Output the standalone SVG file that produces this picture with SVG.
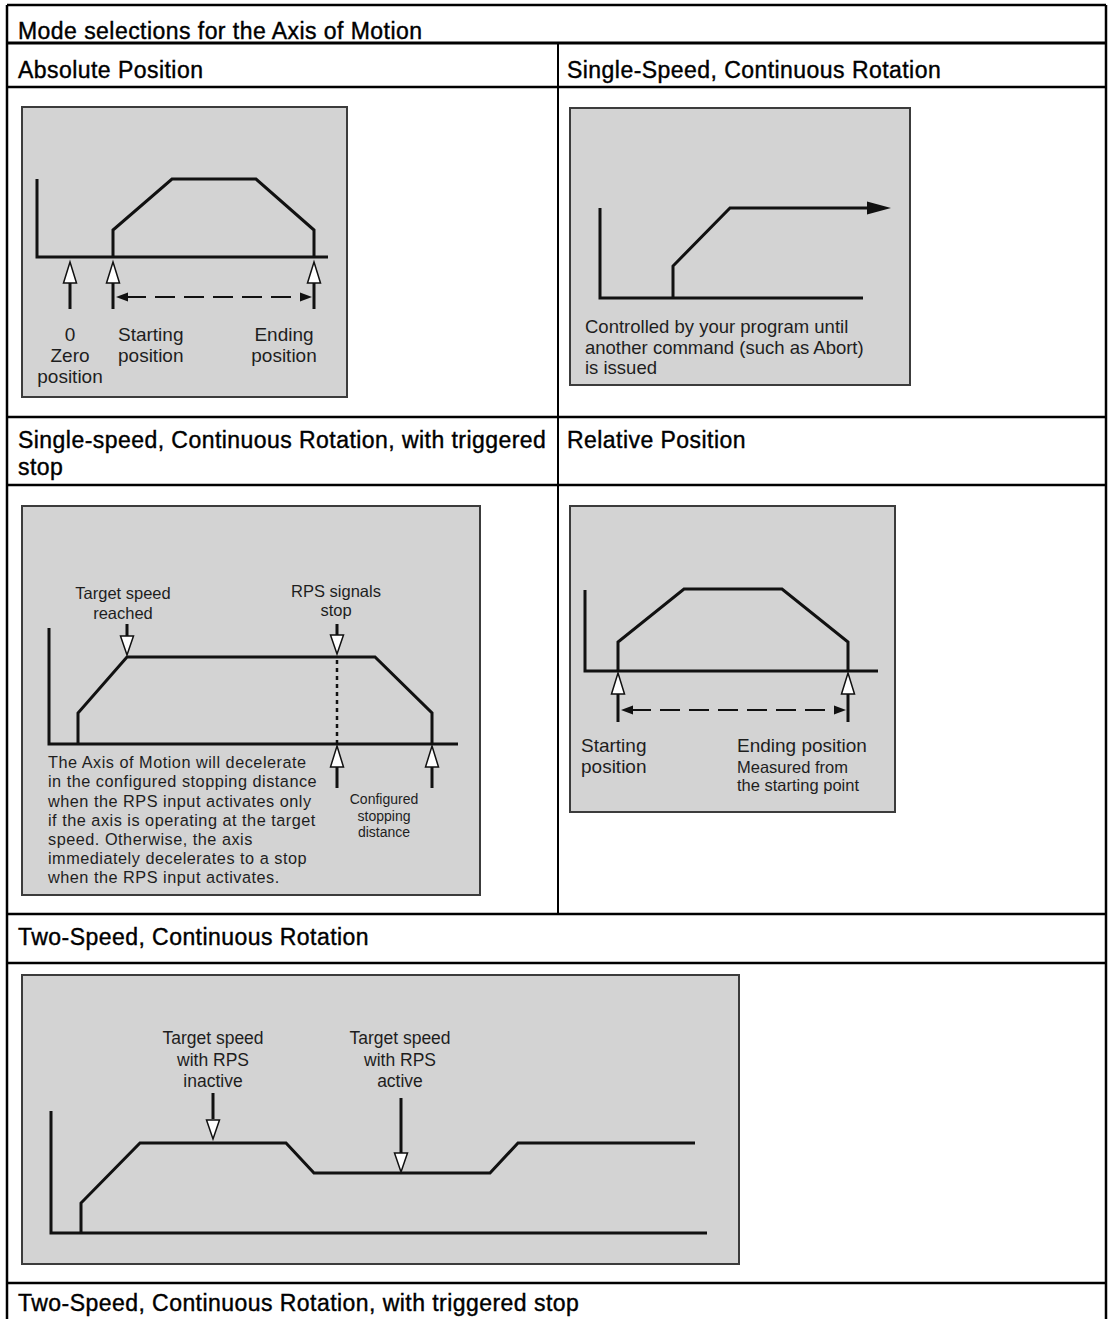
<svg xmlns="http://www.w3.org/2000/svg" width="1111" height="1319" viewBox="0 0 1111 1319">
<style>
.tbl{stroke:#000;stroke-width:2.5;fill:none}
.div{stroke:#000;stroke-width:2;fill:none}
.hdr{font-family:"Liberation Sans",Arial,sans-serif;font-size:23px;letter-spacing:0.45px;fill:#000;stroke:#000;stroke-width:0.4px}
.panel{fill:#d3d3d3;stroke:#3c3c3c;stroke-width:2}
.ln{stroke:#111;stroke-width:3;fill:none;stroke-linejoin:miter}
.stem{stroke:#111;stroke-width:3;fill:none}
.hollow{fill:#fff;stroke:#111;stroke-width:1.5;stroke-linejoin:miter}
.dash{stroke:#111;stroke-width:2;fill:none;stroke-dasharray:20 9}
.dot{stroke:#111;stroke-width:2.5;fill:none;stroke-dasharray:4 4}
.solid{fill:#111;stroke:none}
.t{font-family:"Liberation Sans",Arial,sans-serif;fill:#1e1e1e}
.l19{font-size:19px}
.l18{font-size:18.5px}
.l17{font-size:17.5px}
.l16{font-size:16.5px}
.l15{font-size:16.3px;letter-spacing:0.5px}
.l14{font-size:14px}
.mid{text-anchor:middle}
</style>
<defs>
<path id="hu" class="hollow" d="M0,0 L6.5,21 L-6.5,21 Z"/>
<path id="hd" class="hollow" d="M0,0 L6.5,-19 L-6.5,-19 Z"/>
</defs>

<g id="table">
<line class="tbl" x1="7" y1="5" x2="1106" y2="5"/>
<line class="tbl" x1="7" y1="5" x2="7" y2="1319"/>
<line class="tbl" x1="1106" y1="5" x2="1106" y2="1319"/>
<line class="tbl" x1="7" y1="43" x2="1106" y2="43" style="stroke-width:3"/>
<line class="tbl" x1="7" y1="87" x2="1106" y2="87"/>
<line class="tbl" x1="7" y1="417" x2="1106" y2="417"/>
<line class="tbl" x1="7" y1="485" x2="1106" y2="485"/>
<line class="tbl" x1="7" y1="914" x2="1106" y2="914"/>
<line class="tbl" x1="7" y1="963" x2="1106" y2="963"/>
<line class="tbl" x1="7" y1="1283" x2="1106" y2="1283"/>
<line class="div" x1="558" y1="43" x2="558" y2="914"/>
<text class="hdr" x="18" y="39">Mode selections for the Axis of Motion</text>
<text class="hdr" x="18" y="78">Absolute Position</text>
<text class="hdr" x="567" y="78">Single-Speed, Continuous Rotation</text>
<text class="hdr" x="18" y="448">Single-speed, Continuous Rotation, with triggered</text>
<text class="hdr" x="18" y="475">stop</text>
<text class="hdr" x="567" y="448">Relative Position</text>
<text class="hdr" x="18" y="945">Two-Speed, Continuous Rotation</text>
<text class="hdr" x="18" y="1311">Two-Speed, Continuous Rotation, with triggered stop</text>
</g>

<g id="absolute-position">
<rect class="panel" x="22" y="107" width="325" height="290"/>
<polyline class="ln" points="37,179 37,257 328,257"/>
<polyline class="ln" points="113,257 113,230 172,179 256,179 314,230 314,257"/>
<line class="stem" x1="70" y1="282" x2="70" y2="309"/>
<use href="#hu" x="70" y="262"/>
<line class="stem" x1="113" y1="282" x2="113" y2="309"/>
<use href="#hu" x="113" y="262"/>
<line class="stem" x1="314" y1="282" x2="314" y2="309"/>
<use href="#hu" x="314" y="262"/>
<line class="dash" x1="126" y1="297" x2="302" y2="297"/>
<path class="solid" d="M116,297 L128,292.5 L128,301.5 Z"/>
<path class="solid" d="M312,297 L300,292.5 L300,301.5 Z"/>
<text class="t l19 mid" x="70" y="341">0</text>
<text class="t l19 mid" x="70" y="362">Zero</text>
<text class="t l19 mid" x="70" y="383">position</text>
<text class="t l19" x="118" y="341">Starting</text>
<text class="t l19" x="118" y="362">position</text>
<text class="t l19 mid" x="284" y="341">Ending</text>
<text class="t l19 mid" x="284" y="362">position</text>
</g>

<g id="single-speed">
<rect class="panel" x="570" y="108" width="340" height="277"/>
<polyline class="ln" points="600,208 600,298 863,298"/>
<polyline class="ln" points="673,298 673,266 730,208 870,208"/>
<path class="solid" d="M891,208 L867,201.5 L867,214.5 Z"/>
<text class="t l18" x="585" y="333">Controlled by your program until</text>
<text class="t l18" x="585" y="354">another command (such as Abort)</text>
<text class="t l18" x="585" y="374">is issued</text>
</g>

<g id="triggered-stop">
<rect class="panel" x="22" y="506" width="458" height="389"/>
<polyline class="ln" points="49,628 49,744 458,744"/>
<polyline class="ln" points="78,744 78,713 127,657 375,657 432,713 432,744"/>
<line class="dot" x1="337" y1="660" x2="337" y2="744"/>
<line class="stem" x1="127" y1="624" x2="127" y2="637"/>
<use href="#hd" x="127" y="655"/>
<line class="stem" x1="337" y1="624" x2="337" y2="636"/>
<use href="#hd" x="337" y="654"/>
<line class="stem" x1="337" y1="766" x2="337" y2="788"/>
<use href="#hu" x="337" y="746"/>
<line class="stem" x1="432" y1="766" x2="432" y2="788"/>
<use href="#hu" x="432" y="746"/>
<text class="t l16 mid" x="123" y="599">Target speed</text>
<text class="t l16 mid" x="123" y="619">reached</text>
<text class="t l16 mid" x="336" y="597">RPS signals</text>
<text class="t l16 mid" x="336" y="616">stop</text>
<text class="t l14 mid" x="384" y="804">Configured</text>
<text class="t l14 mid" x="384" y="820.5">stopping</text>
<text class="t l14 mid" x="384" y="837">distance</text>
<text class="t l15" x="48" y="768">The Axis of Motion will decelerate</text>
<text class="t l15" x="48" y="787">in the configured stopping distance</text>
<text class="t l15" x="48" y="806.5">when the RPS input activates only</text>
<text class="t l15" x="48" y="826">if the axis is operating at the target</text>
<text class="t l15" x="48" y="845">speed. Otherwise, the axis</text>
<text class="t l15" x="48" y="864">immediately decelerates to a stop</text>
<text class="t l15" x="48" y="883">when the RPS input activates.</text>
</g>

<g id="relative-position">
<rect class="panel" x="570" y="506" width="325" height="306"/>
<polyline class="ln" points="585,590 585,671 878,671"/>
<polyline class="ln" points="618,671 618,642 684,589 782,589 848,642 848,671"/>
<line class="stem" x1="618" y1="693" x2="618" y2="722"/>
<use href="#hu" x="618" y="673"/>
<line class="stem" x1="848" y1="693" x2="848" y2="722"/>
<use href="#hu" x="848" y="673"/>
<line class="dash" x1="631" y1="710" x2="836" y2="710"/>
<path class="solid" d="M621,710 L633,705.5 L633,714.5 Z"/>
<path class="solid" d="M846,710 L834,705.5 L834,714.5 Z"/>
<text class="t l19" x="581" y="752">Starting</text>
<text class="t l19" x="581" y="773">position</text>
<text class="t l19" x="737" y="752">Ending position</text>
<text class="t l16" x="737" y="773">Measured from</text>
<text class="t l16" x="737" y="791">the starting point</text>
</g>

<g id="two-speed">
<rect class="panel" x="22" y="975" width="717" height="289"/>
<polyline class="ln" points="51,1111 51,1233 707,1233"/>
<polyline class="ln" points="81,1233 81,1203 140,1143 286,1143 314,1173 490,1173 518,1143 695,1143"/>
<line class="stem" x1="213" y1="1093" x2="213" y2="1119"/>
<use href="#hd" x="213" y="1139"/>
<line class="stem" x1="401" y1="1098" x2="401" y2="1153"/>
<use href="#hd" x="401" y="1172"/>
<text class="t l17 mid" x="213" y="1044">Target speed</text>
<text class="t l17 mid" x="213" y="1066">with RPS</text>
<text class="t l17 mid" x="213" y="1087">inactive</text>
<text class="t l17 mid" x="400" y="1044">Target speed</text>
<text class="t l17 mid" x="400" y="1066">with RPS</text>
<text class="t l17 mid" x="400" y="1087">active</text>
</g>
</svg>
